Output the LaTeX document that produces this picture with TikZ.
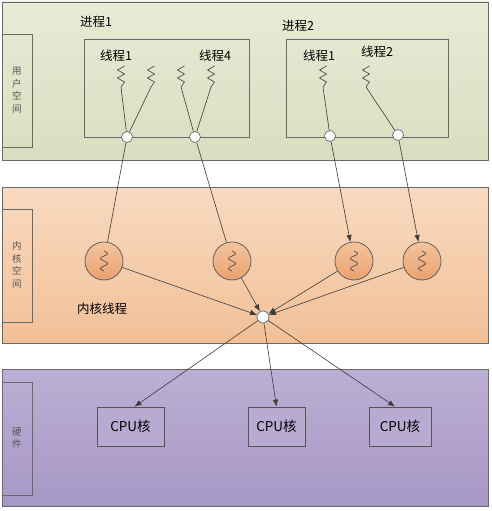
\documentclass[tikz,border=0pt]{standalone}
\usepackage{fontspec}
\setmainfont{Noto Sans CJK SC}
\usetikzlibrary{arrows.meta}
\definecolor{userT}{RGB}{232,235,214}
\definecolor{userB}{RGB}{218,222,192}
\definecolor{kernT}{RGB}{249,218,192}
\definecolor{kernB}{RGB}{242,192,152}
\definecolor{hwT}{RGB}{188,175,212}
\definecolor{hwB}{RGB}{166,151,197}
\definecolor{ballT}{RGB}{244,196,158}
\definecolor{ballB}{RGB}{234,162,112}
\definecolor{edge}{RGB}{105,105,105}
\definecolor{wire}{RGB}{60,60,60}
\definecolor{sidetext}{RGB}{85,85,85}
\tikzset{
  layer/.style={draw=edge, line width=0.8pt},
  sidebox/.style={draw=edge, line width=0.8pt},
  sidelabel/.style={text=sidetext, font=\fontsize{9.5}{12.5}\selectfont, align=center, inner sep=0pt},
  title/.style={font=\fontsize{12.5}{14}\selectfont, inner sep=0pt, anchor=west},
  procbox/.style={draw=edge, line width=0.8pt},
  port/.style={circle, draw=edge, fill=white, minimum size=11pt, inner sep=0pt, line width=0.7pt},
  kthread/.style={circle, draw=edge!80!black, top color=ballT, bottom color=ballB, minimum size=38pt, inner sep=0pt, line width=0.7pt},
  cpu/.style={draw=edge!80!black, fill=hwT!80!hwB, minimum height=39pt, inner sep=0pt, line width=0.8pt, font=\fontsize{13.5}{15}\selectfont},
  wireline/.style={draw=wire, line width=0.6pt},
  arr/.style={wireline, -{Latex[length=7pt, width=5.5pt]}}
}
\begin{document}
\begin{tikzpicture}[x=1pt, y=-1pt]
\useasboundingbox (0,0) rectangle (492,511);
% three layers
\draw [layer, top color=userT, bottom color=userB] (2,2) rectangle (488,160);
\draw [layer, top color=kernT, bottom color=kernB] (2,187) rectangle (488,343);
\draw [layer, top color=hwT, bottom color=hwB] (2,369) rectangle (488,506);
% side labels
\draw [sidebox] (2,34) rectangle (32,147);
\draw [sidebox] (2,209) rectangle (32,322);
\draw [sidebox] (2,382) rectangle (32,495);
\node [sidelabel] (userlbl) at (17,90) {用\\户\\空\\间};
\node [sidelabel] (kernlbl) at (17,265) {内\\核\\空\\间};
\node [sidelabel] (hwlbl) at (17,438) {硬\\件};
% processes
\draw [procbox] (84,39) rectangle (249,137);
\draw [procbox] (286,39) rectangle (448,137);
\node [title] (proc1) at (80,22) {进程1};
\node [title] (proc2) at (282,26) {进程2};
\node [title] (t11) at (100,56) {线程1};
\node [title] (t14) at (199,56) {线程4};
\node [title] (t21) at (303,56) {线程1};
\node [title] (t22) at (361,52) {线程2};
% thread squiggles
\foreach \x/\n in {121/a, 151/b, 181/c, 211/d, 323/e, 366/f} {
  \draw [wireline] (\x+3.5,66) -- (\x-3.5,70) -- (\x+3.5,74) -- (\x-3.5,78) -- (\x+3.5,82) -- (\x,87);
  \coordinate (sq\n) at (\x,87);
}
% ports on the process boxes
\node [port] (pa) at (127,137) {};
\node [port] (pb) at (195,137) {};
\node [port] (pc) at (330,136) {};
\node [port] (pd) at (398,135) {};
\draw [wireline] (sqa) -- (pa);
\draw [wireline] (sqb) -- (pa);
\draw [wireline] (sqc) -- (pb);
\draw [wireline] (sqd) -- (pb);
\draw [wireline] (sqe) -- (pc);
\draw [wireline] (sqf) -- (pd);
% kernel threads
\node [kthread] (k1) at (104,261) {};
\node [kthread] (k2) at (232,261) {};
\node [kthread] (k3) at (354,261) {};
\node [kthread] (k4) at (422,261) {};
\foreach \k in {k1, k2, k3, k4} {
  \draw [wireline, shift={(\k)}] plot [domain=-10:10, samples=41, smooth] ({3.5*sin(\x*36)}, \x);
}
\node [title] (klbl) at (77,309) {内核线程};
\node [port, minimum size=12pt] (hub) at (263,317) {};
\draw [wireline] (pa) -- (k1);
\draw [wireline] (pb) -- (k2);
\draw [arr] (pc) -- (k3);
\draw [arr] (pd) -- (k4);
\foreach \k in {k1, k2, k3, k4} {
  \draw [arr] (\k) -- (hub);
}
% cpu cores
\node [cpu, minimum width=67pt] (c1) at (130.5,426.5) {CPU核};
\node [cpu, minimum width=57pt] (c2) at (276.5,426.5) {CPU核};
\node [cpu, minimum width=62pt] (c3) at (400,426.5) {CPU核};
\draw [arr] (hub) -- ([xshift=4pt]c1.north);
\draw [arr] (hub) -- (c2.north);
\draw [arr] (hub) -- ([xshift=-5pt]c3.north);
\end{tikzpicture}
\end{document}
